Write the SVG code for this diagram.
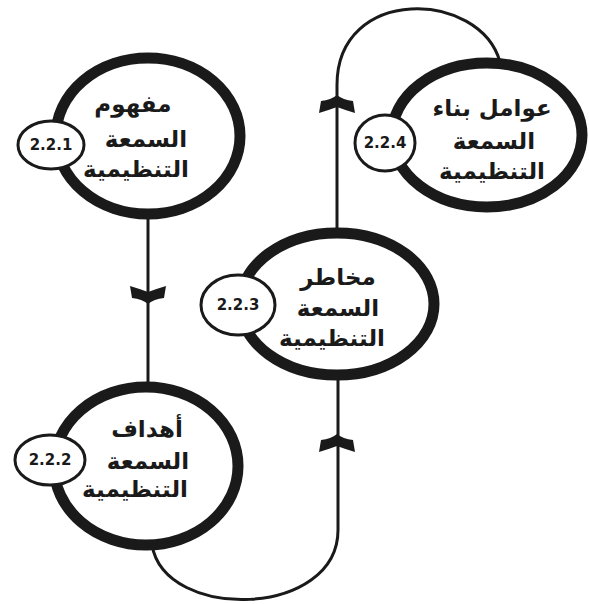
<svg xmlns="http://www.w3.org/2000/svg" xmlns:xlink="http://www.w3.org/1999/xlink" width="589" height="604" viewBox="0 0 589 604">
  <style>
    .ring { fill: #ffffff; stroke: #1a1a1a; stroke-width: 11; }
    .badge { fill: #ffffff; stroke: #1a1a1a; stroke-width: 3; }
    .num { font-family: "DejaVu Sans", "Liberation Sans", sans-serif; font-weight: bold; font-size: 15px; fill: #1a1a1a; text-anchor: middle; }
    .label { font-family: "DejaVu Sans", "Noto Sans", sans-serif; font-weight: bold; font-size: 23px; fill: #1a1a1a; text-anchor: middle; }
    .link { fill: none; stroke: #1a1a1a; stroke-width: 3; }
    .chev { fill: #1a1a1a; }
  </style>
  <defs>
    <!-- downward chevron centred on the origin -->
    <path id="chevron" class="chev" d="M -18 -8 Q -8 -5 0 -2 Q 8 -5 18 -8 L 16 4 Q 6 5 0 10 Q -6 5 -16 4 Z"/>
  </defs>

  <g id="connectors">
    <!-- 2.2.1 to 2.2.2 -->
    <line class="link" x1="148" y1="210" x2="148" y2="390"/>
    <use xlink:href="#chevron" transform="translate(148,294)"/>
    <!-- 2.2.2 round the bottom up to 2.2.3 -->
    <path class="link" d="M 152 545 C 165 622, 338 618, 338 530 L 338 375"/>
    <use xlink:href="#chevron" transform="translate(337,444) rotate(180)"/>
    <!-- 2.2.3 up and over to 2.2.4 -->
    <path class="link" d="M 337 235 L 337 85 C 337 -15, 480 -10, 500 62"/>
    <use xlink:href="#chevron" transform="translate(337,105) rotate(180)"/>
  </g>

  <g id="node-1">
    <ellipse class="ring" cx="148" cy="136" rx="92" ry="78"/>
    <text class="label" x="133" y="112">مفهوم</text>
    <text class="label" x="146" y="147">السمعة</text>
    <text class="label" x="136" y="177">التنظيمية</text>
    <ellipse class="badge" cx="51" cy="145" rx="33" ry="24"/>
    <text class="num" x="51" y="150">2.2.1</text>
  </g>

  <g id="node-2">
    <ellipse class="ring" cx="146" cy="466" rx="92" ry="79"/>
    <text class="label" x="147" y="437">أهداف</text>
    <text class="label" x="148" y="469">السمعة</text>
    <text class="label" x="135" y="497">التنظيمية</text>
    <ellipse class="badge" cx="50" cy="460" rx="35" ry="25"/>
    <text class="num" x="50" y="465">2.2.2</text>
  </g>

  <g id="node-3">
    <ellipse class="ring" cx="337" cy="304" rx="97" ry="71"/>
    <text class="label" x="338" y="285">مخاطر</text>
    <text class="label" x="338" y="316">السمعة</text>
    <text class="label" x="332" y="346">التنظيمية</text>
    <ellipse class="badge" cx="238" cy="305" rx="37" ry="30"/>
    <text class="num" x="238" y="310">2.2.3</text>
  </g>

  <g id="node-4">
    <ellipse class="ring" cx="487" cy="135" rx="95" ry="72"/>
    <text class="label" x="492" y="116">عوامل بناء</text>
    <text class="label" x="494" y="149">السمعة</text>
    <text class="label" x="492" y="179">التنظيمية</text>
    <ellipse class="badge" cx="385" cy="143" rx="30" ry="28"/>
    <text class="num" x="385" y="148">2.2.4</text>
  </g>
</svg>
